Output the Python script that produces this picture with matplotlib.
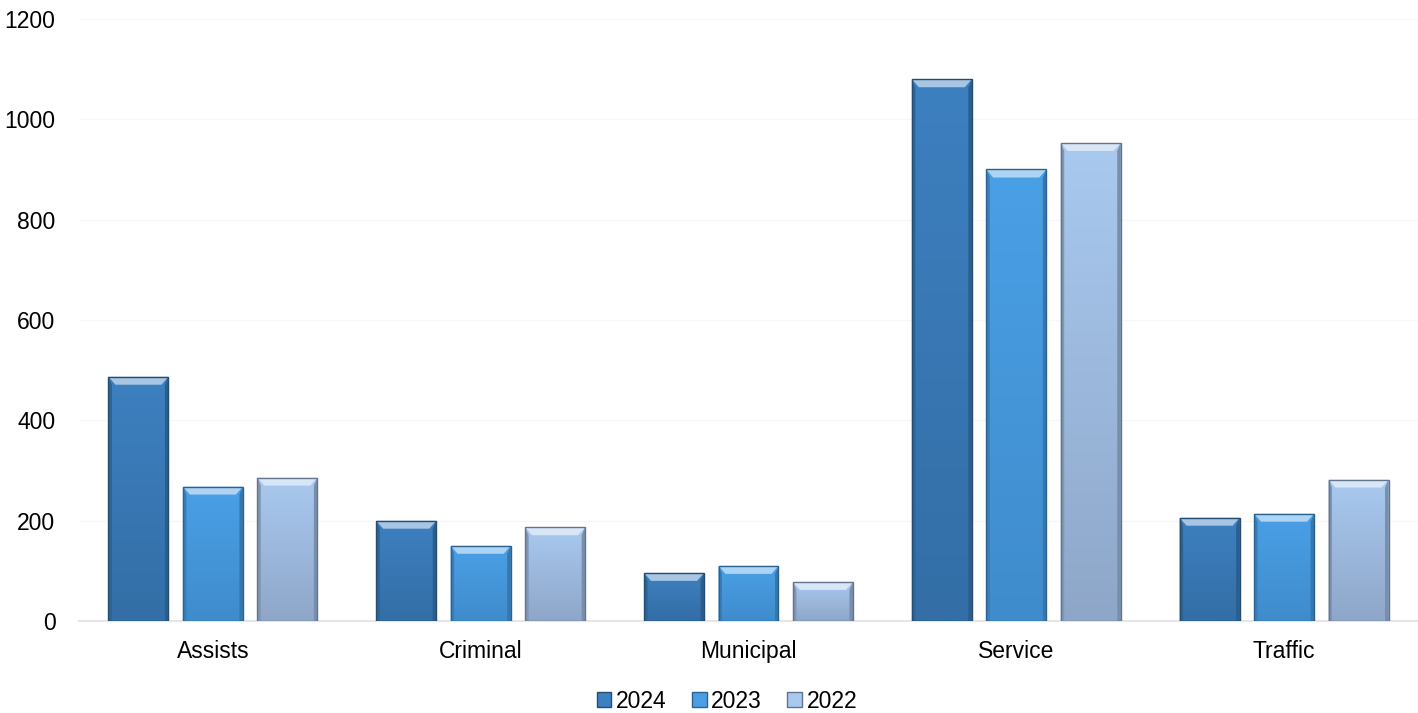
import numpy as np
from matplotlib import pyplot as plt
from matplotlib.patches import Polygon, Rectangle
from matplotlib.colors import to_rgb

categories = ['Assists', 'Criminal', 'Municipal', 'Service', 'Traffic']
years = ['2024', '2023', '2022']
v2024 = [487, 200, 96, 1080, 206]
v2023 = [268, 150, 110, 900, 214]
v2022 = [286, 187, 78, 953, 282]
series = [v2024, v2023, v2022]
colors = ['#3d80c0', '#4aa0e6', '#a9c9ef']
bottoms = ['#336ea6', '#3f8ccc', '#8ea7c9']

plt.rcParams['font.family'] = ['Liberation Sans', 'DejaVu Sans']


def shade(c, f):
    r, g, b = to_rgb(c)
    if f > 1:
        return tuple(x + (1 - x) * (f - 1) for x in (r, g, b))
    return tuple(x * f for x in (r, g, b))


def bevel_bar(ax, x, h, w, c, cb):
    # bar body with vertical gradient, light top bevel, darker side edges
    bx = 0.026          # bevel width in x units
    by = min(16, h * 0.3)
    x0, x1 = x - w / 2, x + w / 2
    top, bot = np.array(to_rgb(c)), np.array(to_rgb(cb))
    t = np.linspace(0, 1, 64)[:, None]
    grad = (top * (1 - t) + bot * t)[:, None, :]
    im = ax.imshow(grad, extent=(x0, x1, 0, h), aspect='auto', zorder=3,
                   interpolation='bilinear', origin='upper')
    clip = Rectangle((x0, 0), w, h, transform=ax.transData)
    im.set_clip_path(clip)
    ax.add_patch(Polygon([(x0, h), (x1, h), (x1 - bx, h - by), (x0 + bx, h - by)],
                         closed=True, facecolor=shade(c, 1.55), edgecolor='none', zorder=4))
    ax.add_patch(Polygon([(x0, h), (x0 + bx * 0.5, h - by), (x0 + bx * 0.5, 0), (x0, 0)],
                         closed=True, facecolor=shade(cb, 0.9), edgecolor='none', zorder=4))
    ax.add_patch(Polygon([(x1, h), (x1 - bx * 0.5, h - by), (x1 - bx * 0.5, 0), (x1, 0)],
                         closed=True, facecolor=shade(cb, 0.85), edgecolor='none', zorder=4))
    ax.add_patch(Rectangle((x0, 0), w, h, facecolor='none', edgecolor=shade(cb, 0.7),
                           linewidth=1.0, zorder=5))


fig = plt.figure(figsize=(14.18, 7.13), dpi=100)
ax = fig.add_axes([79 / 1418, 92 / 713, 1 - 79 / 1418, 602 / 713])

x = np.arange(len(categories))
w = 0.224
off = 0.278
for i, (vals, c, cb) in enumerate(zip(series, colors, bottoms)):
    for xi, v in zip(x, vals):
        bevel_bar(ax, xi + (i - 1) * off, v, w, c, cb)

ax.set_xlim(-0.5, len(categories) - 0.5)
ax.set_ylim(0, 1200)
ax.set_yticks(range(0, 1201, 200))
ax.set_xticks(x)
ax.set_xticklabels(categories)
ax.tick_params(axis='both', length=0, labelsize=16.5, colors='#000000')
ax.tick_params(axis='x', pad=14)
ax.tick_params(axis='y', pad=17)
ax.yaxis.grid(True, color='#f7f7f7', linewidth=1)
ax.set_axisbelow(True)
for s in ['top', 'right', 'left']:
    ax.spines[s].set_visible(False)
ax.spines['bottom'].set_color('#e6e6e6')
ax.spines['bottom'].set_linewidth(1.5)

handles = [Rectangle((0, 0), 1, 1, facecolor=c, edgecolor=shade(cb, 0.7))
           for c, cb in zip(colors, bottoms)]
fig.legend(handles, years, loc='center', bbox_to_anchor=(727 / 1418, 1 - 701 / 713),
           ncol=3, frameon=False, fontsize=16.5, handlelength=0.65, handleheight=0.65,
           handletextpad=0.2, columnspacing=1.1, borderpad=0)

fig.savefig('out.png', dpi=100)
